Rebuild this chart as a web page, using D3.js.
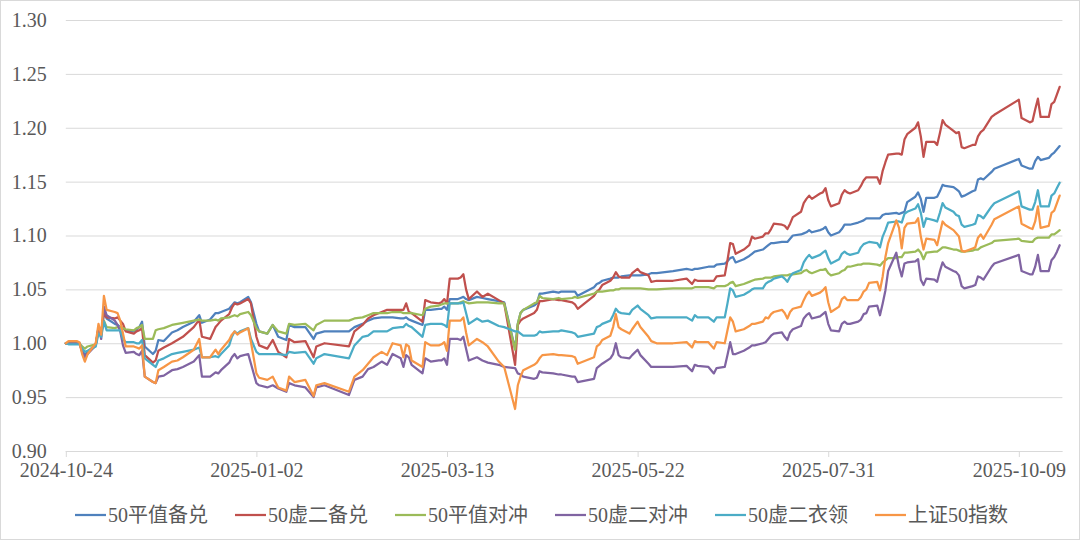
<!DOCTYPE html>
<html><head><meta charset="utf-8">
<script src="https://cdn.jsdelivr.net/npm/d3@7"></script>
<style>body{margin:0;background:#fff}svg{display:block}</style>
</head><body><svg id="c" width="1080" height="540"></svg>
<script>
const dates = ["2024-10-24","2024-10-25","2024-10-28","2024-10-29","2024-10-30","2024-10-31","2024-11-01","2024-11-04","2024-11-05","2024-11-06",
"2024-11-07","2024-11-08","2024-11-11","2024-11-12","2024-11-13","2024-11-14","2024-11-15","2024-11-18","2024-11-19","2024-11-20",
"2024-11-21","2024-11-22","2024-11-25","2024-11-26","2024-11-27","2024-11-29","2024-12-02","2024-12-04","2024-12-06","2024-12-10",
"2024-12-12","2024-12-13","2024-12-16","2024-12-18","2024-12-19","2024-12-20","2024-12-23","2024-12-24","2024-12-25","2024-12-26",
"2024-12-27","2024-12-30","2024-12-31","2025-01-02","2025-01-03","2025-01-06","2025-01-08","2025-01-10","2025-01-13","2025-01-14",
"2025-01-16","2025-01-20","2025-01-23","2025-01-24","2025-01-27","2025-02-05","2025-02-07","2025-02-10","2025-02-12","2025-02-14",
"2025-02-17","2025-02-19","2025-02-21","2025-02-24","2025-02-25","2025-02-26","2025-02-27","2025-02-28","2025-03-04","2025-03-05",
"2025-03-07","2025-03-10","2025-03-11","2025-03-12","2025-03-13","2025-03-14","2025-03-17","2025-03-18","2025-03-19","2025-03-20",
"2025-03-21","2025-03-24","2025-03-26","2025-03-28","2025-04-01","2025-04-03","2025-04-07","2025-04-08","2025-04-09","2025-04-10",
"2025-04-14","2025-04-15","2025-04-16","2025-04-17","2025-04-21","2025-04-23","2025-04-24","2025-04-28","2025-04-29","2025-04-30",
"2025-05-06","2025-05-07","2025-05-08","2025-05-09","2025-05-12","2025-05-13","2025-05-14","2025-05-15","2025-05-16","2025-05-19",
"2025-05-20","2025-05-22","2025-05-23","2025-05-26","2025-05-27","2025-05-29","2025-06-04","2025-06-09","2025-06-11","2025-06-12",
"2025-06-13","2025-06-17","2025-06-19","2025-06-20","2025-06-23","2025-06-24","2025-06-25","2025-06-26","2025-06-27","2025-06-30",
"2025-07-02","2025-07-03","2025-07-04","2025-07-07","2025-07-08","2025-07-09","2025-07-10","2025-07-11","2025-07-14","2025-07-15",
"2025-07-16","2025-07-17","2025-07-18","2025-07-21","2025-07-22","2025-07-23","2025-07-24","2025-07-25","2025-07-28","2025-07-29",
"2025-07-30","2025-07-31","2025-08-01","2025-08-04","2025-08-05","2025-08-06","2025-08-07","2025-08-08","2025-08-11","2025-08-12",
"2025-08-13","2025-08-14","2025-08-15","2025-08-18","2025-08-19","2025-08-20","2025-08-21","2025-08-22","2025-08-25","2025-08-26",
"2025-08-27","2025-08-28","2025-08-29","2025-09-01","2025-09-02","2025-09-03","2025-09-04","2025-09-05","2025-09-08","2025-09-09",
"2025-09-10","2025-09-11","2025-09-12","2025-09-15","2025-09-16","2025-09-17","2025-09-18","2025-09-19","2025-09-22","2025-09-23",
"2025-09-24","2025-09-25","2025-09-26","2025-09-29","2025-09-30","2025-10-09","2025-10-10","2025-10-13","2025-10-14","2025-10-15",
"2025-10-16","2025-10-17","2025-10-20","2025-10-21","2025-10-22","2025-10-23","2025-10-24"];

// 50平值备兑
const pingzhiBeidui = [1.000,1.000,1.000,1.000,0.994,0.989,0.992,0.999,1.013,1.008,
1.029,1.023,1.018,1.017,1.015,1.014,1.012,1.011,1.013,1.015,
1.020,0.997,0.990,0.993,1.003,1.002,1.010,1.012,1.015,1.020,
1.026,1.019,1.022,1.028,1.028,1.029,1.032,1.035,1.038,1.037,
1.038,1.043,1.038,1.018,1.011,1.009,1.017,1.006,1.003,1.017,
1.015,1.015,1.004,1.009,1.011,1.011,1.015,1.018,1.021,1.023,
1.024,1.024,1.024,1.023,1.023,1.024,1.022,1.021,1.017,1.031,
1.031,1.032,1.032,1.034,1.031,1.041,1.041,1.042,1.043,1.041,
1.040,1.043,1.042,1.041,1.039,1.038,0.995,1.018,1.028,1.031,
1.035,1.037,1.046,1.046,1.048,1.047,1.048,1.048,1.048,1.044,
1.052,1.055,1.056,1.058,1.060,1.061,1.061,1.061,1.062,1.063,
1.063,1.063,1.063,1.064,1.065,1.065,1.067,1.069,1.068,1.069,
1.069,1.071,1.071,1.073,1.074,1.076,1.079,1.080,1.075,1.078,
1.081,1.083,1.085,1.087,1.089,1.091,1.093,1.093,1.094,1.094,
1.094,1.097,1.100,1.101,1.102,1.103,1.105,1.103,1.105,1.106,
1.108,1.103,1.100,1.103,1.106,1.110,1.110,1.110,1.112,1.113,
1.114,1.116,1.116,1.116,1.116,1.119,1.120,1.120,1.121,1.120,
1.121,1.122,1.131,1.136,1.140,1.134,1.122,1.135,1.135,1.136,
1.141,1.147,1.146,1.145,1.143,1.141,1.136,1.137,1.141,1.142,
1.152,1.153,1.152,1.159,1.162,1.171,1.165,1.162,1.162,1.169,
1.173,1.170,1.172,1.175,1.177,1.180,1.183];

// 50虚二备兑
const xuerBeidui = [1.000,1.000,1.000,1.000,0.992,0.986,0.991,0.999,1.014,1.010,
1.028,1.024,1.023,1.024,1.021,1.018,1.011,1.009,1.011,1.012,
1.014,0.989,0.982,0.984,0.993,0.996,1.000,1.003,1.006,1.015,
1.022,1.006,1.004,1.015,1.018,1.021,1.027,1.033,1.037,1.036,
1.037,1.041,1.037,1.006,0.998,0.995,1.003,0.992,0.987,1.004,
1.001,1.002,0.987,0.997,1.000,0.997,1.011,1.017,1.023,1.026,
1.029,1.031,1.031,1.031,1.031,1.037,1.029,1.028,1.020,1.040,
1.038,1.037,1.038,1.041,1.037,1.060,1.060,1.061,1.064,1.050,
1.041,1.048,1.043,1.046,1.040,1.037,0.980,1.017,1.021,1.023,
1.028,1.031,1.039,1.039,1.041,1.040,1.040,1.038,1.036,1.032,
1.044,1.048,1.050,1.054,1.058,1.061,1.066,1.062,1.061,1.061,
1.065,1.069,1.066,1.063,1.057,1.058,1.058,1.060,1.055,1.059,
1.058,1.058,1.058,1.062,1.063,1.077,1.093,1.092,1.083,1.087,
1.091,1.099,1.097,1.099,1.102,1.102,1.106,1.111,1.110,1.109,
1.106,1.111,1.117,1.122,1.130,1.134,1.137,1.134,1.139,1.140,
1.144,1.133,1.127,1.130,1.138,1.142,1.140,1.139,1.142,1.146,
1.151,1.154,1.154,1.154,1.148,1.160,1.168,1.175,1.176,1.176,
1.175,1.189,1.194,1.200,1.205,1.192,1.173,1.187,1.187,1.184,
1.195,1.207,1.203,1.197,1.195,1.196,1.182,1.181,1.184,1.184,
1.192,1.196,1.198,1.210,1.212,1.226,1.209,1.205,1.206,1.217,
1.227,1.210,1.210,1.222,1.224,1.231,1.238];

// 50平值对冲
const pingzhiDuichong = [1.000,1.000,1.000,1.000,0.997,0.995,0.997,0.999,1.012,1.010,
1.021,1.015,1.014,1.015,1.015,1.014,1.013,1.012,1.014,1.015,
1.017,1.004,1.004,1.012,1.013,1.014,1.017,1.018,1.019,1.021,
1.022,1.021,1.021,1.022,1.021,1.023,1.024,1.025,1.026,1.025,
1.027,1.029,1.026,1.014,1.011,1.009,1.017,1.011,1.009,1.018,
1.017,1.018,1.012,1.017,1.021,1.021,1.023,1.024,1.026,1.028,
1.028,1.028,1.029,1.029,1.028,1.028,1.028,1.028,1.026,1.032,
1.034,1.035,1.036,1.037,1.037,1.037,1.037,1.038,1.039,1.038,
1.037,1.038,1.038,1.038,1.037,1.037,0.994,1.018,1.028,1.031,
1.037,1.038,1.044,1.042,1.041,1.042,1.041,1.042,1.043,1.042,
1.046,1.048,1.048,1.048,1.049,1.049,1.050,1.050,1.051,1.051,
1.051,1.051,1.051,1.050,1.050,1.050,1.051,1.051,1.051,1.052,
1.052,1.052,1.051,1.053,1.053,1.054,1.056,1.057,1.053,1.055,
1.057,1.058,1.059,1.060,1.061,1.061,1.061,1.062,1.063,1.063,
1.063,1.064,1.064,1.065,1.067,1.068,1.066,1.065,1.068,1.068,
1.069,1.065,1.063,1.065,1.067,1.068,1.071,1.071,1.073,1.073,
1.074,1.074,1.074,1.073,1.072,1.075,1.077,1.079,1.079,1.080,
1.080,1.084,1.084,1.085,1.087,1.084,1.078,1.084,1.085,1.085,
1.087,1.089,1.089,1.087,1.087,1.086,1.085,1.085,1.086,1.087,
1.087,1.089,1.090,1.093,1.095,1.097,1.095,1.094,1.094,1.097,
1.098,1.098,1.098,1.101,1.101,1.103,1.105];

// 50虚二对冲
const xuerDuichong = [1.000,1.000,1.000,1.000,0.993,0.987,0.990,0.998,1.015,1.004,
1.034,1.026,1.021,1.017,1.011,0.998,0.991,0.992,0.990,0.989,
0.993,0.969,0.964,0.963,0.969,0.970,0.975,0.976,0.978,0.983,
0.989,0.969,0.969,0.973,0.972,0.975,0.982,0.987,0.990,0.986,
0.988,0.990,0.981,0.963,0.961,0.959,0.961,0.958,0.955,0.963,
0.961,0.959,0.950,0.959,0.961,0.952,0.966,0.969,0.976,0.978,
0.983,0.980,0.990,0.986,0.978,0.989,0.987,0.980,0.972,0.986,
0.983,0.984,0.984,0.986,0.980,1.004,1.004,1.003,1.006,0.995,
0.984,0.987,0.984,0.982,0.980,0.978,0.977,0.972,0.971,0.969,
0.967,0.968,0.974,0.973,0.972,0.971,0.971,0.969,0.969,0.964,
0.967,0.977,0.979,0.981,0.986,0.990,1.000,0.989,0.987,0.986,
0.989,0.994,0.989,0.981,0.978,0.978,0.978,0.979,0.974,0.980,
0.979,0.978,0.972,0.977,0.978,0.989,1.001,0.990,0.990,0.993,
0.996,0.998,0.998,1.000,1.001,1.004,1.007,1.009,1.010,1.006,
1.003,1.010,1.013,1.016,1.023,1.026,1.028,1.023,1.025,1.027,
1.029,1.018,1.012,1.011,1.018,1.020,1.018,1.018,1.020,1.022,
1.027,1.028,1.034,1.035,1.026,1.037,1.049,1.067,1.084,1.071,
1.062,1.074,1.075,1.076,1.078,1.059,1.054,1.060,1.059,1.057,
1.067,1.075,1.071,1.067,1.066,1.063,1.053,1.051,1.053,1.054,
1.062,1.061,1.059,1.071,1.074,1.082,1.067,1.064,1.064,1.071,
1.082,1.067,1.067,1.077,1.080,1.085,1.091];

// 50虚二衣领
const xuerYiling = [1.000,0.999,0.999,0.999,0.995,0.992,0.993,0.997,1.009,1.006,
1.020,1.012,1.012,1.012,1.012,1.004,1.001,1.001,1.000,1.000,
1.003,0.986,0.980,0.978,0.984,0.986,0.990,0.991,0.992,0.994,
0.996,0.987,0.987,0.988,0.987,0.990,0.998,1.006,1.011,1.009,
1.011,1.014,1.004,0.992,0.990,0.990,0.990,0.990,0.989,0.992,
0.991,0.992,0.981,0.986,0.990,0.986,0.998,1.006,1.007,1.011,
1.011,1.011,1.014,1.015,1.015,1.018,1.016,1.015,1.006,1.017,
1.018,1.018,1.018,1.017,1.015,1.037,1.037,1.037,1.038,1.028,
1.018,1.023,1.020,1.021,1.016,1.015,1.011,1.011,1.009,1.007,
1.007,1.008,1.011,1.010,1.011,1.011,1.012,1.010,1.009,1.006,
1.009,1.015,1.016,1.018,1.021,1.026,1.032,1.029,1.028,1.027,
1.031,1.035,1.032,1.026,1.023,1.024,1.024,1.024,1.021,1.026,
1.024,1.024,1.020,1.024,1.024,1.037,1.051,1.049,1.043,1.045,
1.048,1.050,1.051,1.051,1.055,1.057,1.058,1.060,1.062,1.060,
1.057,1.062,1.065,1.068,1.075,1.079,1.082,1.079,1.082,1.084,
1.086,1.079,1.074,1.078,1.083,1.085,1.083,1.082,1.084,1.089,
1.092,1.093,1.094,1.093,1.089,1.099,1.105,1.112,1.113,1.113,
1.112,1.120,1.122,1.125,1.129,1.121,1.108,1.116,1.114,1.113,
1.121,1.130,1.126,1.122,1.119,1.118,1.110,1.108,1.110,1.111,
1.119,1.118,1.116,1.127,1.130,1.141,1.127,1.124,1.124,1.131,
1.142,1.127,1.127,1.137,1.139,1.144,1.149];

// 上证50指数
const sz50Index = [1.000,1.002,1.002,1.001,0.990,0.983,0.990,1.000,1.018,1.008,
1.044,1.031,1.029,1.028,1.021,1.009,0.997,0.997,0.996,0.995,
0.998,0.969,0.964,0.963,0.975,0.978,0.983,0.984,0.987,0.994,
1.004,0.987,0.987,0.994,0.990,0.994,1.003,1.008,1.011,1.008,
1.010,1.014,1.001,0.972,0.968,0.966,0.969,0.959,0.956,0.969,
0.964,0.966,0.951,0.961,0.963,0.955,0.969,0.975,0.981,0.987,
0.992,0.989,1.000,0.998,0.987,0.999,0.997,0.984,0.978,1.001,
0.998,0.998,0.999,1.001,0.993,1.021,1.021,1.021,1.024,1.010,
0.998,1.004,1.001,0.997,0.983,0.978,0.939,0.961,0.969,0.975,
0.980,0.982,0.986,0.989,0.990,0.989,0.989,0.988,0.987,0.981,
0.987,0.997,0.999,1.003,1.007,1.015,1.027,1.015,1.013,1.009,
1.013,1.020,1.015,1.006,1.002,1.000,1.000,1.001,0.996,1.002,
1.001,1.001,0.995,1.001,1.000,1.012,1.024,1.020,1.011,1.013,
1.016,1.018,1.018,1.020,1.024,1.023,1.027,1.029,1.031,1.028,
1.023,1.029,1.032,1.034,1.040,1.045,1.048,1.044,1.047,1.049,
1.052,1.038,1.029,1.034,1.041,1.043,1.040,1.040,1.040,1.043,
1.048,1.050,1.056,1.057,1.049,1.062,1.080,1.093,1.114,1.107,
1.088,1.107,1.111,1.112,1.116,1.099,1.087,1.097,1.096,1.091,
1.102,1.113,1.110,1.105,1.102,1.099,1.086,1.085,1.088,1.089,
1.098,1.101,1.097,1.110,1.115,1.127,1.111,1.107,1.106,1.113,
1.127,1.107,1.109,1.121,1.123,1.130,1.137];

const seriesNames = ["50平值备兑","50虚二备兑","50平值对冲","50虚二对冲","50虚二衣领","上证50指数"];
const seriesValues = [pingzhiBeidui, xuerBeidui, pingzhiDuichong, xuerDuichong, xuerYiling, sz50Index];
const seriesColors = ["#4F81BD","#C0504D","#9BBB59","#8064A2","#4BACC6","#F79646"];
const yTickValues = [0.90,0.95,1.00,1.05,1.10,1.15,1.20,1.25,1.30];
const xTickLabels = ["2024-10-24","2025-01-02","2025-03-13","2025-05-22","2025-07-31","2025-10-09"];
const xDomain = ["2024-10-24","2025-10-25"];

(function () {
  const parse = d3.utcParse("%Y-%m-%d");
  const svg = d3.select("#c");
  const W = 1080, H = 540;
  const pLeft = 65.8, pRight = 1062.4, pTop = 20, pBottom = 451;
  const numFont = "'Liberation Serif','Times New Roman',serif";
  const txtColor = "#595959";

  svg.append("rect").attr("x", 0.5).attr("y", 0.5).attr("width", W - 1).attr("height", H - 1)
    .attr("fill", "#fff").attr("stroke", "#d9d9d9").attr("stroke-width", 1);

  const x = d3.scaleUtc().domain(xDomain.map(parse)).range([pLeft, pRight]);
  const y = d3.scaleLinear().domain([0.90, 1.30]).range([pBottom, pTop]);

  const yAxis = d3.axisLeft(y).tickValues(yTickValues).tickSize(-(pRight - pLeft))
    .tickFormat(d3.format(".2f")).tickPadding(19);
  const gy = svg.append("g").attr("transform", `translate(${pLeft},0)`).call(yAxis);
  gy.select(".domain").remove();
  gy.selectAll(".tick line").attr("stroke", "#d9d9d9").attr("stroke-width", 1);
  gy.selectAll(".tick text").attr("fill", txtColor).style("font-family", numFont).style("font-size", "20px");

  const xAxis = d3.axisBottom(x).tickValues(xTickLabels.map(parse))
    .tickFormat(d3.utcFormat("%Y-%m-%d")).tickSize(6).tickPadding(6);
  const gx = svg.append("g").attr("transform", `translate(0,${pBottom})`).call(xAxis);
  gx.select(".domain").attr("stroke", "#d9d9d9").attr("d", `M${pLeft},0.5H${pRight}`);
  gx.selectAll(".tick line").attr("stroke", "#d9d9d9");
  gx.selectAll(".tick text").attr("fill", txtColor).style("font-family", numFont).style("font-size", "20px");

  const line = d3.line().x(d => x(d.date)).y(d => y(d.v));
  seriesValues.forEach((vals, i) => {
    const pts = dates.map((d, j) => ({date: parse(d), v: vals[j]}));
    svg.append("path").datum(pts).attr("d", line)
      .attr("fill", "none").attr("stroke", seriesColors[i]).attr("stroke-width", 2.25)
      .attr("stroke-linejoin", "round").attr("stroke-linecap", "round");
  });

  const lg = svg.append("g");
  seriesNames.forEach((name, i) => {
    const lx = 75 + i * 160, ly = 515;
    lg.append("line").attr("x1", lx).attr("x2", lx + 31).attr("y1", ly).attr("y2", ly)
      .attr("stroke", seriesColors[i]).attr("stroke-width", 2.25);
    lg.append("text").attr("x", lx + 33).attr("y", ly).attr("dy", "0.35em")
      .attr("fill", txtColor).style("font-family", "'Liberation Serif','Noto Sans CJK SC',serif")
      .style("font-size", "20px").text(name);
  });
})();
</script>
</body></html>
